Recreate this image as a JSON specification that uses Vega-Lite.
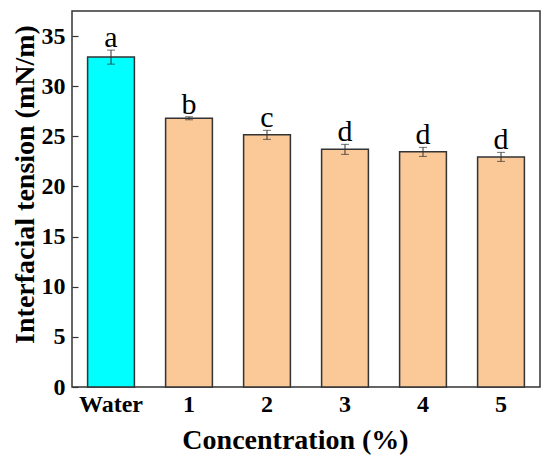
{
  "$schema": "https://vega.github.io/schema/vega-lite/v6.json",
  "width": 468,
  "height": 376,
  "autosize": "none",
  "padding": {"left": 72, "top": 11, "right": 10, "bottom": 77},
  "background": "white",
  "config": {
    "font": "Liberation Serif",
    "view": {"stroke": "#333333", "strokeWidth": 1.5},
    "axis": {
      "labelFont": "Liberation Serif",
      "labelFontWeight": "bold",
      "labelFontSize": 24,
      "labelColor": "black",
      "titleFont": "Liberation Serif",
      "titleFontWeight": "bold",
      "titleFontSize": 28,
      "titleColor": "black",
      "domain": false,
      "grid": false,
      "tickColor": "#333333",
      "tickWidth": 1.2,
      "tickSize": -6
    }
  },
  "data": {
    "values": [
      {"group": "Water", "tension": 32.9, "low": 32.2, "high": 33.6, "letter": "a"},
      {"group": "1", "tension": 26.8, "low": 26.65, "high": 26.95, "letter": "b"},
      {"group": "2", "tension": 25.15, "low": 24.7, "high": 25.6, "letter": "c"},
      {"group": "3", "tension": 23.7, "low": 23.2, "high": 24.2, "letter": "d"},
      {"group": "4", "tension": 23.45, "low": 23.0, "high": 23.9, "letter": "d"},
      {"group": "5", "tension": 22.95, "low": 22.5, "high": 23.4, "letter": "d"}
    ]
  },
  "encoding": {
    "x": {
      "field": "group",
      "type": "nominal",
      "sort": null,
      "title": "Concentration (%)",
      "scale": {"paddingInner": 0.4, "paddingOuter": 0.2},
      "axis": {"labelAngle": 0, "labelPadding": 11, "titleX": 223, "titleY": 61.5, "titleBaseline": "alphabetic"}
    }
  },
  "layer": [
    {
      "mark": {"type": "bar", "stroke": "#333333", "strokeWidth": 1.5},
      "encoding": {
        "y": {
          "field": "tension",
          "type": "quantitative",
          "title": "Interfacial tension (mN/m)",
          "scale": {"domain": [0, 37.5], "nice": false},
          "axis": {"values": [0, 5, 10, 15, 20, 25, 30, 35], "labelPadding": 13, "titleX": -39, "titleY": 173, "titleBaseline": "alphabetic"}
        },
        "color": {
          "field": "group",
          "type": "nominal",
          "sort": null,
          "scale": {"domain": ["Water", "1", "2", "3", "4", "5"], "range": ["#00FFFF", "#FBC898", "#FBC898", "#FBC898", "#FBC898", "#FBC898"]},
          "legend": null
        }
      }
    },
    {
      "mark": {"type": "errorbar", "ticks": {"size": 8, "color": "#333333"}, "rule": {"color": "#333333"}},
      "encoding": {
        "y": {"field": "low", "type": "quantitative", "title": "Interfacial tension (mN/m)"},
        "y2": {"field": "high"}
      }
    },
    {
      "mark": {"type": "text", "baseline": "alphabetic", "dy": -3, "fontSize": 30, "font": "Liberation Serif", "color": "black"},
      "encoding": {
        "y": {"field": "high", "type": "quantitative", "title": "Interfacial tension (mN/m)"},
        "text": {"field": "letter"}
      }
    }
  ]
}
